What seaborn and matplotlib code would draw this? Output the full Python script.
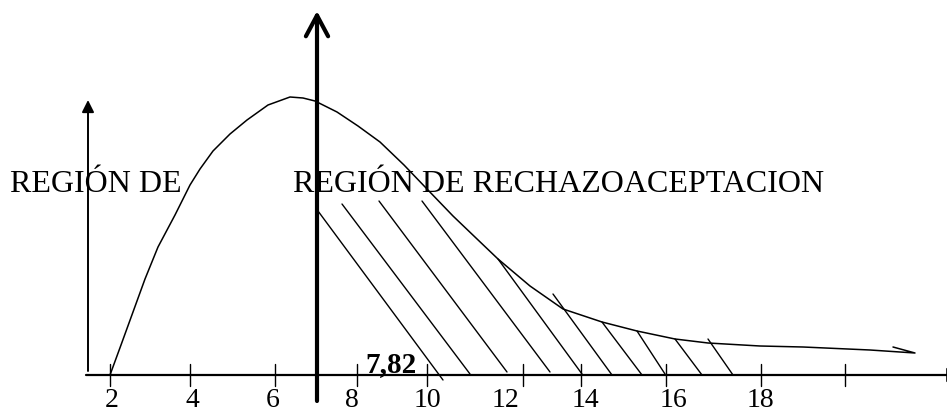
import matplotlib
matplotlib.use("Agg")
import matplotlib.pyplot as plt
import pandas as pd
import seaborn as sns

# curve of the density (pixel units, y grows downward)
curve_x = [110, 121, 133, 145, 158, 175, 190, 200, 213, 230, 247, 268, 290, 303, 315,
           337, 358, 380, 404, 427, 453, 476, 498, 530, 563, 602, 637, 675, 708, 760,
           803, 870, 915, 893]
curve_y = [376, 346, 313, 280, 248, 216, 186, 170, 152, 135, 121, 106, 98, 99, 102,
           113, 127, 143, 166, 190, 217, 239, 260, 287, 310, 323, 332, 340, 344, 347,
           348, 351, 354, 348]

# hatch strokes of the rejection region
hatch_x0 = [318, 342, 379, 422, 498, 553, 602, 637, 675, 708]
hatch_y0 = [212, 205, 202, 202, 260, 295, 323, 332, 340, 340]
hatch_x1 = [443, 470, 507, 550, 582, 612, 642, 665, 702, 733]
hatch_y1 = [381, 375, 373, 373, 375, 376, 376, 375, 376, 376]

tick_x = [110, 190, 275, 357, 427, 523, 581, 666, 761, 845]
label_x = [112, 192, 273, 352, 427, 505, 585, 673, 760]
tick_labels = ["2", "4", "6", "8", "10", "12", "14", "16", "18"]

critical_label = "7,82"
left_text = "REGIÓN DE"
right_text = "REGIÓN DE RECHAZOACEPTACION"


def main():
    sns.set_style("white")
    plt.rcParams["font.family"] = ["Liberation Serif", "DejaVu Serif"]
    plt.rcParams["text.color"] = "black"

    fig = plt.figure(figsize=(9.47, 4.14), dpi=100)
    ax = fig.add_axes([0, 0, 1, 1])
    ax.set_xlim(0, 947)
    ax.set_ylim(414, 0)
    ax.axis("off")

    df = pd.DataFrame({"x": curve_x, "y": curve_y})
    sns.lineplot(data=df, x="x", y="y", sort=False, color="black", lw=1.1, ax=ax)

    for x0, y0, x1, y1 in zip(hatch_x0, hatch_y0, hatch_x1, hatch_y1):
        ax.plot([x0, x1], [y0, y1], color="black", lw=1.0)

    # x axis with arrow (tip runs past the right edge)
    ax.annotate("", xy=(962, 376), xytext=(86, 376), annotation_clip=False,
                arrowprops=dict(arrowstyle="-|>", color="black", lw=1.6,
                                mutation_scale=22, shrinkA=0, shrinkB=0))
    # small y axis on the left
    ax.annotate("", xy=(88, 101), xytext=(88, 372),
                arrowprops=dict(arrowstyle="-|>", color="black", lw=1.4,
                                mutation_scale=18, shrinkA=0, shrinkB=0))
    # thick critical line
    ax.annotate("", xy=(317, 12), xytext=(317, 402),
                arrowprops=dict(arrowstyle="->,head_length=0.75,head_width=0.4",
                                color="black", lw=3.0, mutation_scale=20,
                                shrinkA=0, shrinkB=0))

    for tx in tick_x:
        ax.plot([tx, tx], [365, 387], color="black", lw=1.0)

    for lx, lab in zip(label_x, tick_labels):
        ax.text(lx, 407, lab, ha="center", va="baseline", fontsize=20)

    ax.text(365, 372, critical_label, ha="left", va="baseline",
            fontsize=21, fontweight="bold")
    ax.text(10, 192, left_text, ha="left", va="baseline", fontsize=23)
    ax.text(293, 192, right_text, ha="left", va="baseline", fontsize=23)

    fig.savefig("out.png", dpi=100)


if __name__ == "__main__":
    main()
